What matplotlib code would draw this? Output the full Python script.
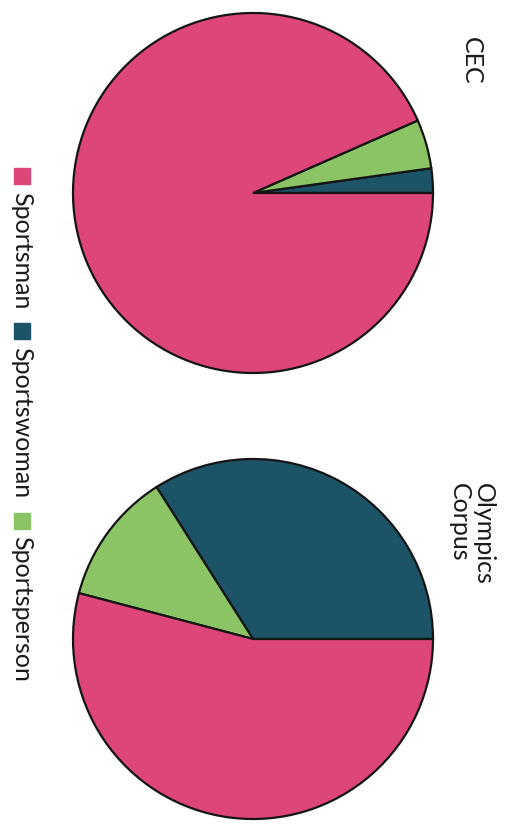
import matplotlib
matplotlib.use('Agg')
import matplotlib.pyplot as plt
from matplotlib.patches import Rectangle

categories = ['Sportsman', 'Sportswoman', 'Sportsperson']
colors = ['#DE467A', '#1C5366', '#8BC465']
cec_share = [93.4, 2.2, 4.4]
olympics_share = [54.1, 34.0, 11.9]
titles = ['CEC', 'Olympics\nCorpus']

W, H = 517, 831
plt.rcParams['font.family'] = ['Lato', 'DejaVu Sans']
fig = plt.figure(figsize=(W / 100, H / 100), dpi=100)
fig.patch.set_facecolor('white')

R = 180                      # pie radius, px
centres = [(253, 193), (253, 639)]
order = [1, 2, 0]            # wedges drawn from 0 deg counter-clockwise
pad = 3

for (cx, cy), share, title in zip(centres, [cec_share, olympics_share], titles):
    ax = fig.add_axes([(cx - R - pad) / W, 1 - (cy + R + pad) / H,
                       2 * (R + pad) / W, 2 * (R + pad) / H])
    ax.pie([share[i] for i in order], colors=[colors[i] for i in order],
           startangle=0, counterclock=True, radius=1,
           wedgeprops=dict(edgecolor='#151515', linewidth=1.6))
    lim = (R + pad) / R
    ax.set_xlim(-lim, lim)
    ax.set_ylim(-lim, lim)
    ax.set_aspect('equal')
    ax.axis('off')
    fig.text((cx + 218) / W, 1 - (cy - R + 24) / H, title, rotation=-90,
             ha='center', va='top', fontsize=18, color='#1a1a1a',
             multialignment='left', linespacing=1.05)

# legend drawn by hand, rotated like the rest of the page
renderer = fig.canvas.get_renderer()
x, y, sq = 22, 168, 16
for name, col in zip(categories, colors):
    fig.patches.append(Rectangle(((x - sq / 2) / W, 1 - (y + sq) / H), sq / W, sq / H,
                                 transform=fig.transFigure, color=col))
    t = fig.text(x / W, 1 - (y + sq + 8) / H, name, rotation=-90, ha='center',
                 va='top', fontsize=18, color='#1a1a1a')
    bb = t.get_window_extent(renderer)
    y = y + sq + 8 + bb.height + 14

fig.savefig('out.png', dpi=100)
